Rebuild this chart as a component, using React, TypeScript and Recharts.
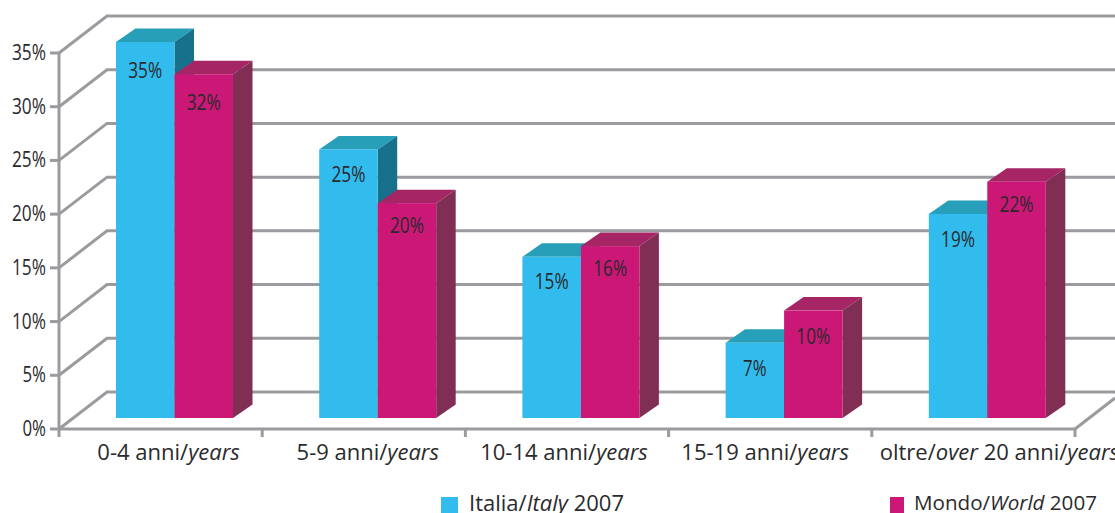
import { BarChart, Bar, CartesianGrid, XAxis, YAxis } from 'recharts';

// asterisks mark the italic English part of each label
const categories = [
  '0-4 anni/*years*',
  '5-9 anni/*years*',
  '10-14 anni/*years*',
  '15-19 anni/*years*',
  'oltre/*over* 20 anni/*years*',
];
const italia = [35, 25, 15, 7, 19];
const mondo = [32, 20, 16, 10, 22];
const seriesNames = ['Italia/*Italy* 2007', 'Mondo/*World* 2007'];
const yTicks = [0, 5, 10, 15, 20, 25, 30, 35];

const chartData = categories.map((name, i) => ({ name, italia: italia[i], mondo: mondo[i] }));

const FONT = '"Open Sans", sans-serif';
const TEXT = '#2a2a2c';
const AXIS = '#9b9b9f';
const BLUE = { front: '#32bcee', top: '#279fb8', side: '#17708c' };
const PINK = { front: '#cb1877', top: '#a62665', side: '#802e54' };

const WIDTH = 1115;
const HEIGHT = 513;
const BAND = 203.2;
// depth of the back wall and of the bars
const WALL = { x: 48, y: -37 };
const DEPTH = { x: 19.5, y: -13.5 };
// bars stand on the floor, not on the front edge
const BAR_SHIFT = { x: 14, y: -11 };
const LABEL_NUDGE = [8, 4, -3, -5, 26];
const ITALIA_DROP = [36, 33, 32, 33, 33];
const MONDO_DROP = [36, 30, 30, 33, 30];

function styled(label: string) {
  return label.split('*').map((part, i) =>
    i % 2 ? <tspan key={i} fontStyle="italic">{part}</tspan> : <tspan key={i}>{part}</tspan>,
  );
}

function styledHtml(label: string) {
  return label.split('*').map((part, i) =>
    i % 2 ? <i key={i}>{part}</i> : <span key={i}>{part}</span>,
  );
}

// percentages are set condensed, squeezed to a fixed width per digit
function Percent({ value, ...rest }: any) {
  return (
    <text
      fontFamily={FONT}
      fontSize={21}
      fill={TEXT}
      textLength={String(value).length * 10.5 + 13}
      lengthAdjust="spacingAndGlyphs"
      {...rest}
    >
      {value}%
    </text>
  );
}

// gridline running up the side wall and along the back
function WallLine({ x1, y1 }: any) {
  return (
    <polyline
      points={`${x1},${y1} ${x1 + WALL.x},${y1 + WALL.y} ${WIDTH},${y1 + WALL.y}`}
      fill="none"
      stroke={AXIS}
      strokeWidth={3}
    />
  );
}

function ValueTick({ x, y, payload }: any) {
  return (
    <g>
      <Percent x={x - 13} y={y + 7} textAnchor="end" value={payload.value} />
      <line x1={x - 9} y1={y} x2={x} y2={y} stroke={AXIS} strokeWidth={3} />
    </g>
  );
}

function CategoryTick({ x, y, payload, index }: any) {
  const left = x - BAND / 2;
  const right = x + BAND / 2;
  return (
    <g>
      <line x1={left} y1={y} x2={left} y2={y + 8} stroke={AXIS} strokeWidth={3} />
      {index === categories.length - 1 && (
        <>
          <line x1={right} y1={y} x2={right} y2={y + 8} stroke={AXIS} strokeWidth={3} />
          <line x1={right} y1={y} x2={right + 40} y2={y - 31} stroke={AXIS} strokeWidth={3} />
        </>
      )}
      <text
        x={x + LABEL_NUDGE[index]}
        y={y + 31}
        textAnchor="middle"
        fontFamily={FONT}
        fontSize={22}
        fill={TEXT}
      >
        {styled(payload.value)}
      </text>
    </g>
  );
}

function Box3D({ x, y, width, height, value, index, colors, drops }: any) {
  const l = x + BAR_SHIFT.x;
  const r = l + width;
  const t = y + BAR_SHIFT.y;
  const b = t + height;
  const dx = DEPTH.x;
  const dy = DEPTH.y;
  return (
    <g>
      <polygon points={`${l},${t} ${l + dx},${t + dy} ${r + dx},${t + dy} ${r},${t}`} fill={colors.top} />
      <polygon points={`${r},${t} ${r + dx},${t + dy} ${r + dx},${b + dy} ${r},${b}`} fill={colors.side} />
      <rect x={l} y={t} width={width} height={height} fill={colors.front} />
      <Percent x={l + width / 2} y={t + drops[index]} textAnchor="middle" value={value} />
    </g>
  );
}

export default function App() {
  return (
    <div style={{ position: 'absolute', left: 0, top: 0, width: WIDTH, height: HEIGHT, overflow: 'hidden', background: '#fff' }}>
      <BarChart
        width={WIDTH}
        height={HEIGHT}
        data={chartData}
        margin={{ top: 53, right: 40, bottom: 0, left: 0 }}
        barSize={58.5}
        barGap={0}
      >
        <CartesianGrid vertical={false} syncWithTicks horizontal={(p: any) => <WallLine key={p.index} {...p} />} />
        <YAxis
          width={59}
          domain={[0, 35]}
          ticks={yTicks}
          interval={0}
          tickLine={false}
          tickSize={0}
          tickMargin={0}
          axisLine={{ stroke: AXIS, strokeWidth: 3 }}
          tick={<ValueTick />}
        />
        <XAxis
          dataKey="name"
          height={84}
          interval={0}
          tickLine={false}
          tickSize={0}
          tickMargin={0}
          axisLine={{ stroke: AXIS, strokeWidth: 3 }}
          tick={<CategoryTick />}
        />
        <Bar dataKey="italia" isAnimationActive={false} shape={(p: any) => <Box3D {...p} colors={BLUE} drops={ITALIA_DROP} />} />
        <Bar dataKey="mondo" isAnimationActive={false} shape={(p: any) => <Box3D {...p} colors={PINK} drops={MONDO_DROP} />} />
      </BarChart>
      {seriesNames.map((name, i) => (
        <div key={name}>
          <span
            style={{
              position: 'absolute',
              left: i === 0 ? 441 : 890,
              top: 497,
              width: i === 0 ? 17 : 14,
              height: 16,
              background: i === 0 ? BLUE.front : PINK.front,
            }}
          />
          <span
            style={{
              position: 'absolute',
              left: i === 0 ? 469 : 914,
              top: 491,
              fontFamily: FONT,
              fontSize: i === 0 ? 22 : 20.6,
              lineHeight: '22px',
              color: TEXT,
              whiteSpace: 'nowrap',
            }}
          >
            {styledHtml(name)}
          </span>
        </div>
      ))}
    </div>
  );
}
